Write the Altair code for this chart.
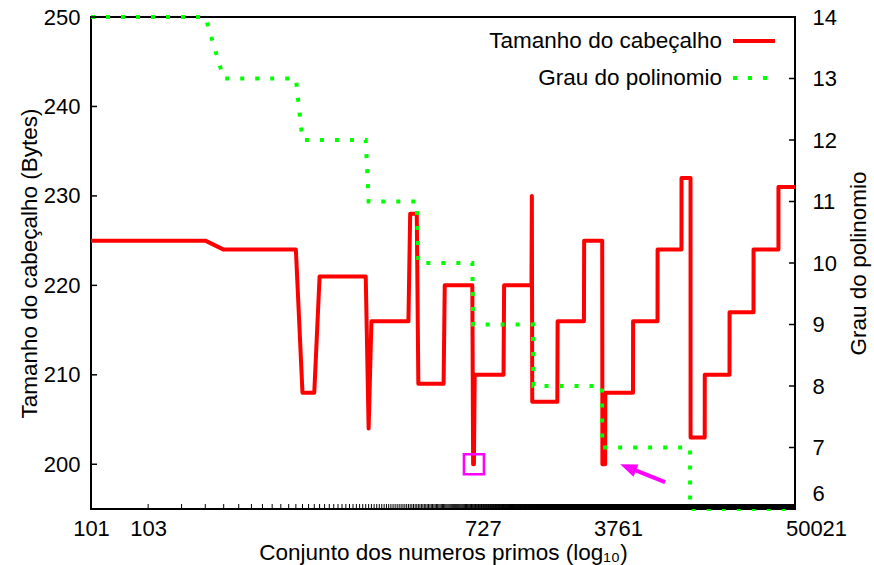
import altair as alt
import pandas as pd

# Rows are the primes 101 ... 50021 in order; x is the row number on a log axis.
n_rows = 5109

# Header size in bytes: first row of each run and the size held along it
red_start = [1, 5, 13, 16, 29, 30, 48, 53, 73, 103, 105, 150, 210, 211, 287,
             396, 494, 512, 717, 965, 1290, 1440, 1710, 2310, 3090, 4180]
red_bytes = [225, 224, 208, 221, 204, 216, 228, 209, 220, 200, 210, 220, 230,
             207, 216, 225, 200, 208, 216, 224, 232, 203, 210, 217, 224, 231]

# Polynomial degree: first row of each run and its degree
green_start = [1, 5, 13, 29, 53, 103, 214, 493, 1432]
green_degree = [14, 13, 12, 11, 10, 9, 8, 7, 6]

# Labelled rows on the x axis and the prime each one stands for
tick_rows = [1, 2, 104, 498, 5109]
tick_primes = ["101", "103", "727", "3761", "50021"]
tick_label_shift = [0, 0, 9, 15, 21]

bytes_ticks = [200, 210, 220, 230, 240, 250]
degree_ticks = [6, 7, 8, 9, 10, 11, 12, 13, 14]

# Highlighted minimum and the arrow pointing at the second one
box_row, box_bytes = 104, 200
arrow_tail = (1057, 198.0)
arrow_neck = (686, 199.6)
arrow_tip = (613, 200.0)

W, H = 704, 492
FONT = "Liberation Sans"
RED = "#ff0000"
GREEN = "#00ff00"
MAGENTA = "#ff00ff"


def runs_to_points(starts, values, last):
    rows = []
    for k, (s, v) in enumerate(zip(starts, values)):
        e = starts[k + 1] - 1 if k + 1 < len(starts) else last
        rows.append({"row": s, "v": v, "o": 2 * k})
        if e != s:
            rows.append({"row": e, "v": v, "o": 2 * k + 1})
    return pd.DataFrame(rows)


red_df = runs_to_points(red_start, red_bytes, n_rows)
green_df = runs_to_points(green_start, green_degree, n_rows)

label_expr = " : ".join(
    f"datum.value == {r} ? '{p}'" for r, p in zip(tick_rows, tick_primes)
) + " : ''"
shift_expr = " : ".join(
    f"datum.value == {r} ? {s}" for r, s in zip(tick_rows, tick_label_shift)
) + " : 0"

x_scale = alt.Scale(type="log", domain=[1, n_rows], nice=False)
x_enc = alt.X(
    "row:Q",
    scale=x_scale,
    axis=alt.Axis(
        values=tick_rows,
        labelExpr=label_expr,
        labelOffset=alt.ExprRef(expr=shift_expr),
        ticks=False,
        tickSize=0,
        domain=False,
        grid=False,
        labelPadding=9,
        labelFontSize=22,
        labelFlush=False,
        labelOverlap=False,
        title="Conjunto dos numeros primos (log₁₀)",
        titleFontSize=22.5,
        titleFontWeight="normal",
        titlePadding=2,
    ),
)

bytes_scale = alt.Scale(domain=[195, 250], nice=False, zero=False)
degree_scale = alt.Scale(domain=[6, 14], nice=False, zero=False)

y_bytes = alt.Y(
    "v:Q",
    scale=bytes_scale,
    axis=alt.Axis(
        orient="left",
        values=bytes_ticks,
        ticks=False,
        tickSize=0,
        domain=False,
        grid=False,
        labelPadding=11,
        labelFontSize=22,
        title="Tamanho do cabeçalho (Bytes)",
        titleFontSize=22.5,
        titleFontWeight="normal",
        titlePadding=2,
    ),
)
y_bytes_plain = alt.Y("v:Q", scale=bytes_scale, axis=None)

y_degree = alt.Y(
    "v:Q",
    scale=degree_scale,
    axis=alt.Axis(
        orient="right",
        values=degree_ticks,
        ticks=False,
        tickSize=0,
        domain=False,
        grid=False,
        labelPadding=17,
        labelFontSize=22,
        labelOffset=alt.ExprRef(expr="datum.value == 6 ? -16 : 0"),
        title="Grau do polinomio",
        titleAngle=270,
        titleFontSize=22.5,
        titleFontWeight="normal",
        titlePadding=34,
    ),
)
y_degree_plain = alt.Y("v:Q", scale=degree_scale, axis=None)

red_line = alt.Chart(red_df).mark_line(
    color=RED, strokeWidth=4, strokeJoin="round"
).encode(x=x_enc, y=y_bytes, order="o:Q")

green_line = alt.Chart(green_df).mark_line(
    color=GREEN, strokeWidth=4, strokeDash=[4, 11], strokeCap="butt"
).encode(x=x_enc, y=y_degree, order="o:Q")

# Inward tick marks: one per row along the bottom, major ticks on both sides
x_ticks = alt.Chart(pd.DataFrame({"row": list(range(1, n_rows + 1))})).mark_rule(
    color="black", strokeWidth=1
).encode(x=x_enc, y=alt.value(H - 5), y2=alt.value(H))

left_ticks = alt.Chart(pd.DataFrame({"v": bytes_ticks})).mark_rule(
    color="black", strokeWidth=1.5
).encode(y=y_bytes_plain, x=alt.value(0), x2=alt.value(6))

right_ticks = alt.Chart(pd.DataFrame({"v": degree_ticks[1:]})).mark_rule(
    color="black", strokeWidth=1.5
).encode(y=y_degree_plain, x=alt.value(W - 6), x2=alt.value(W))

box = alt.Chart(pd.DataFrame({"row": [box_row], "v": [box_bytes]})).mark_point(
    shape="square", size=400, filled=False, color=MAGENTA, strokeWidth=2.5, opacity=1
).encode(x=x_enc, y=y_bytes_plain)

shaft = alt.Chart(pd.DataFrame({
    "row": [arrow_tail[0]], "v": [arrow_tail[1]],
    "row2": [arrow_neck[0]], "v2": [arrow_neck[1]],
})).mark_rule(color=MAGENTA, strokeWidth=4).encode(
    x=x_enc, y=y_bytes_plain, x2="row2:Q", y2="v2:Q"
)

head = alt.Chart(pd.DataFrame({"row": [arrow_tip[0]], "v": [arrow_tip[1]]})).mark_point(
    shape="M0,0L-0.65,1.7L0.65,1.7Z", size=400, filled=True, color=MAGENTA,
    opacity=1, angle=292
).encode(x=x_enc, y=y_bytes_plain)

one = pd.DataFrame({"k": [0]})
legend_red_text = alt.Chart(one).mark_text(
    text="Tamanho do cabeçalho", align="right", baseline="middle",
    font=FONT, fontSize=22.5, color="black"
).encode(x=alt.value(631), y=alt.value(24))
legend_red_line = alt.Chart(one).mark_rule(color=RED, strokeWidth=4).encode(
    x=alt.value(642), x2=alt.value(684), y=alt.value(24)
)
legend_green_text = alt.Chart(one).mark_text(
    text="Grau do polinomio", align="right", baseline="middle",
    font=FONT, fontSize=22.5, color="black"
).encode(x=alt.value(631), y=alt.value(61))
legend_green_line = alt.Chart(one).mark_rule(
    color=GREEN, strokeWidth=4, strokeDash=[4, 11], strokeCap="butt"
).encode(x=alt.value(642), x2=alt.value(684), y=alt.value(61))

chart = alt.layer(
    red_line, green_line, x_ticks, left_ticks, right_ticks, box, shaft, head,
    legend_red_text, legend_red_line, legend_green_text, legend_green_line,
).resolve_scale(y="independent").properties(
    width=W,
    height=H,
    autosize=alt.AutoSizeParams(type="none"),
    padding={"left": 91, "top": 17, "right": 79, "bottom": 56},
    background="white",
).configure_view(
    stroke="black", strokeWidth=2
).configure_axis(
    labelFont=FONT, titleFont=FONT, labelColor="black", titleColor="black"
)

chart.save("out.html", embed_options={"renderer": "svg", "actions": False})
